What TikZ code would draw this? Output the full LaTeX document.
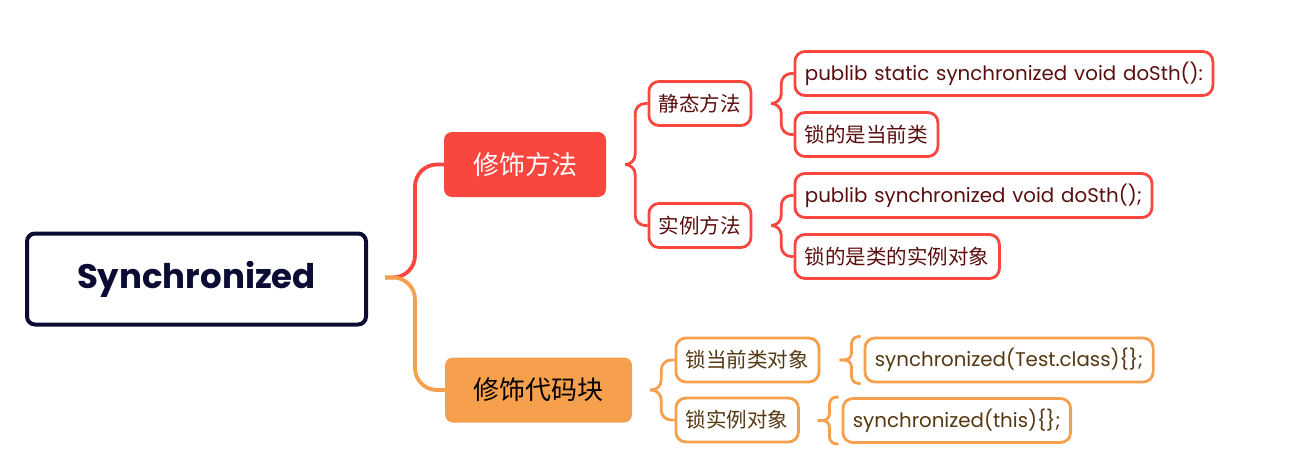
\documentclass[tikz,border=0pt]{standalone}
\usepackage{fontspec}
\setmainfont{Poppins}[WordSpace=1.3]
\newfontfamily\cjk{Noto Sans CJK SC}

\definecolor{rootline}{HTML}{0B0C33}
\definecolor{redfill}{HTML}{F9463F}
\definecolor{orangefill}{HTML}{F6A04D}
\definecolor{redtext}{HTML}{5A0E0E}
\definecolor{orangetext}{HTML}{553710}

\tikzset{
  rootbox/.style={draw=rootline, line width=4pt, rounded corners=8pt,
    minimum width=339pt, minimum height=91pt, text=rootline,
    font=\fontsize{34}{40}\selectfont\bfseries},
  mainbox/.style={rounded corners=8pt, minimum height=65pt, text=white,
    font=\cjk\fontsize{26}{30}\selectfont},
  leafbox/.style={draw, line width=2.8pt, rounded corners=10pt, fill=white,
    inner xsep=10pt, minimum height=44pt, anchor=west,
    font=\fontsize{19.8}{23}\selectfont},
  cn/.style={font=\cjk\fontsize{20.5}{24}\selectfont},
  redleaf/.style={leafbox, draw=redfill, text=redtext},
  orangeleaf/.style={leafbox, draw=orangefill, text=orangetext},
  redline/.style={draw=redfill, line width=2.8pt, rounded corners=10pt},
  orangeline/.style={draw=orangefill, line width=2.8pt, rounded corners=10pt},
}

\begin{document}
\begin{tikzpicture}[x=1pt, y=-1pt]
\useasboundingbox (0,0) rectangle (1295,474);

% root and main branches
\node[rootbox] (root) at (196.5,279) {Synchronized};
\node[mainbox, fill=redfill, minimum width=162pt] (fm) at (525,164.5) {修饰方法};
\node[mainbox, fill=orangefill, text=black, minimum width=187pt] (fb) at (538.5,390) {修饰代码块};

% methods
\node[redleaf, cn] (s1) at (647.5,103.5) {静态方法};
\node[redleaf, cn] (s2) at (647.5,225.5) {实例方法};
\node[redleaf] (t1) at (793.5,73.5) {publib static synchronized void doSth():};
\node[redleaf, cn] (t2) at (793.5,134.5) {锁的是当前类};
\node[redleaf] (t3) at (793.5,195.5) {publib synchronized void doSth();};
\node[redleaf, cn] (t4) at (793.5,256.5) {锁的是类的实例对象};

% blocks
\node[orangeleaf, cn] (o1) at (674.5,360) {锁当前类对象};
\node[orangeleaf, cn] (o2) at (674.5,420) {锁实例对象};
\node[orangeleaf] (c1) at (863.5,360) {synchronized(Test.class)\{\};};
\node[orangeleaf] (c2) at (841.5,420.5) {synchronized(this)\{\};};

% connectors
\draw[redline, line width=3.8pt, rounded corners=22pt] (root.east) ++(17,-1.5) -- ++(30,0) |- (fm.west);
\draw[orangeline, line width=3.8pt, rounded corners=22pt] (root.east) ++(17,-1.5) -- ++(30,0) |- (fb.west);
\draw[redline] (fm.east) ++(19,0) -- ++(10,0) |- (s1.west);
\draw[redline] (fm.east) ++(19,0) -- ++(10,0) |- (s2.west);
\draw[redline] (s1.east) ++(19,0) -- ++(10,0) |- (t1.west);
\draw[redline] (s1.east) ++(19,0) -- ++(10,0) |- (t2.west);
\draw[redline] (s2.east) ++(19,0) -- ++(10,0) |- (t3.west);
\draw[redline] (s2.east) ++(19,0) -- ++(10,0) |- (t4.west);
\draw[orangeline] (fb.east) ++(18,0) -- ++(11,0) |- (o1.west);
\draw[orangeline] (fb.east) ++(18,0) -- ++(11,0) |- (o2.west);
\draw[orangeline, rounded corners=7pt] (c1.west) ++(-24,0) -- ++(12,0) |- ([xshift=-3pt]c1.north west);
\draw[orangeline, rounded corners=7pt] (c1.west) ++(-24,0) -- ++(12,0) |- ([xshift=-3pt]c1.south west);
\draw[orangeline, rounded corners=7pt] (c2.west) ++(-24,0) -- ++(12,0) |- ([xshift=-3pt]c2.north west);
\draw[orangeline, rounded corners=7pt] (c2.west) ++(-24,0) -- ++(12,0) |- ([xshift=-3pt]c2.south west);
\end{tikzpicture}
\end{document}
